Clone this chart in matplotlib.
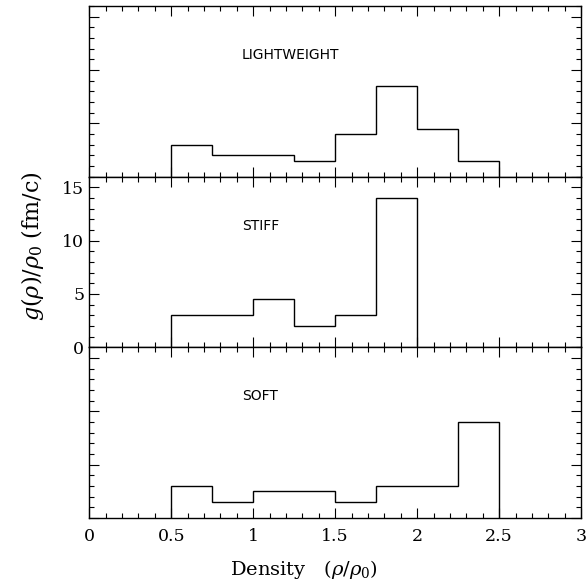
import matplotlib
matplotlib.use('Agg')
import matplotlib.pyplot as plt
from matplotlib.ticker import MultipleLocator, NullFormatter, FuncFormatter

plt.rcParams['font.family'] = 'DejaVu Serif'
plt.rcParams['mathtext.fontset'] = 'dejavuserif'

# histogram bin edges (density rho/rho0) and heights g(rho)/rho0 (fm/c)
light_edges = [0.5, 0.75, 1.0, 1.25, 1.5, 1.75, 2.0, 2.25, 2.5]
light_vals = [3.0, 2.0, 2.0, 1.5, 4.0, 8.5, 4.5, 1.5]

stiff_edges = [0.5, 0.75, 1.0, 1.25, 1.5, 1.75, 2.0]
stiff_vals = [3.0, 3.0, 4.5, 2.0, 3.0, 14.0]

soft_edges = [0.5, 0.75, 1.0, 1.25, 1.5, 1.75, 2.0, 2.25, 2.5]
soft_vals = [3.0, 1.5, 2.5, 2.5, 1.5, 3.0, 3.0, 9.0]

panels = [('LIGHTWEIGHT', light_edges, light_vals),
          ('STIFF', stiff_edges, stiff_vals),
          ('SOFT', soft_edges, soft_vals)]

fig, axes = plt.subplots(3, 1, sharex=True, figsize=(5.87, 5.84), dpi=100)
fig.subplots_adjust(left=0.152, right=0.99, top=0.99, bottom=0.113, hspace=0)

for i, (ax, (name, edges, vals)) in enumerate(zip(axes, panels)):
    ax.stairs(vals, edges, color='black', linewidth=1.0, baseline=0)
    ax.set_xlim(0, 3)
    ax.set_ylim(0, 16)
    ax.xaxis.set_major_locator(MultipleLocator(0.5))
    ax.xaxis.set_minor_locator(MultipleLocator(0.1))
    ax.yaxis.set_major_locator(MultipleLocator(5))
    ax.yaxis.set_minor_locator(MultipleLocator(1))
    ax.tick_params(which='both', direction='in', top=True, right=True,
                   labelsize=12.5, width=0.8)
    ax.tick_params(which='major', length=7)
    ax.tick_params(which='minor', length=3.5)
    if i != 1:
        ax.yaxis.set_major_formatter(NullFormatter())
    for sp in ax.spines.values():
        sp.set_linewidth(1.0)
    ax.text(0.93, 11.4, name, fontsize=10, family='DejaVu Sans',
            va='center', ha='left')

axes[2].xaxis.set_major_formatter(FuncFormatter(lambda v, p: '%g' % v))
axes[2].tick_params(axis='x', pad=7)
fig.text(0.518, 0.025, r'Density   $(\rho/\rho_0)$', fontsize=14,
         ha='center', va='center')
fig.text(0.055, 0.578, r'$g(\rho)/\rho_0$ (fm/c)', rotation=90,
         fontsize=16, ha='center', va='center')

fig.savefig('out.png', dpi=100)
